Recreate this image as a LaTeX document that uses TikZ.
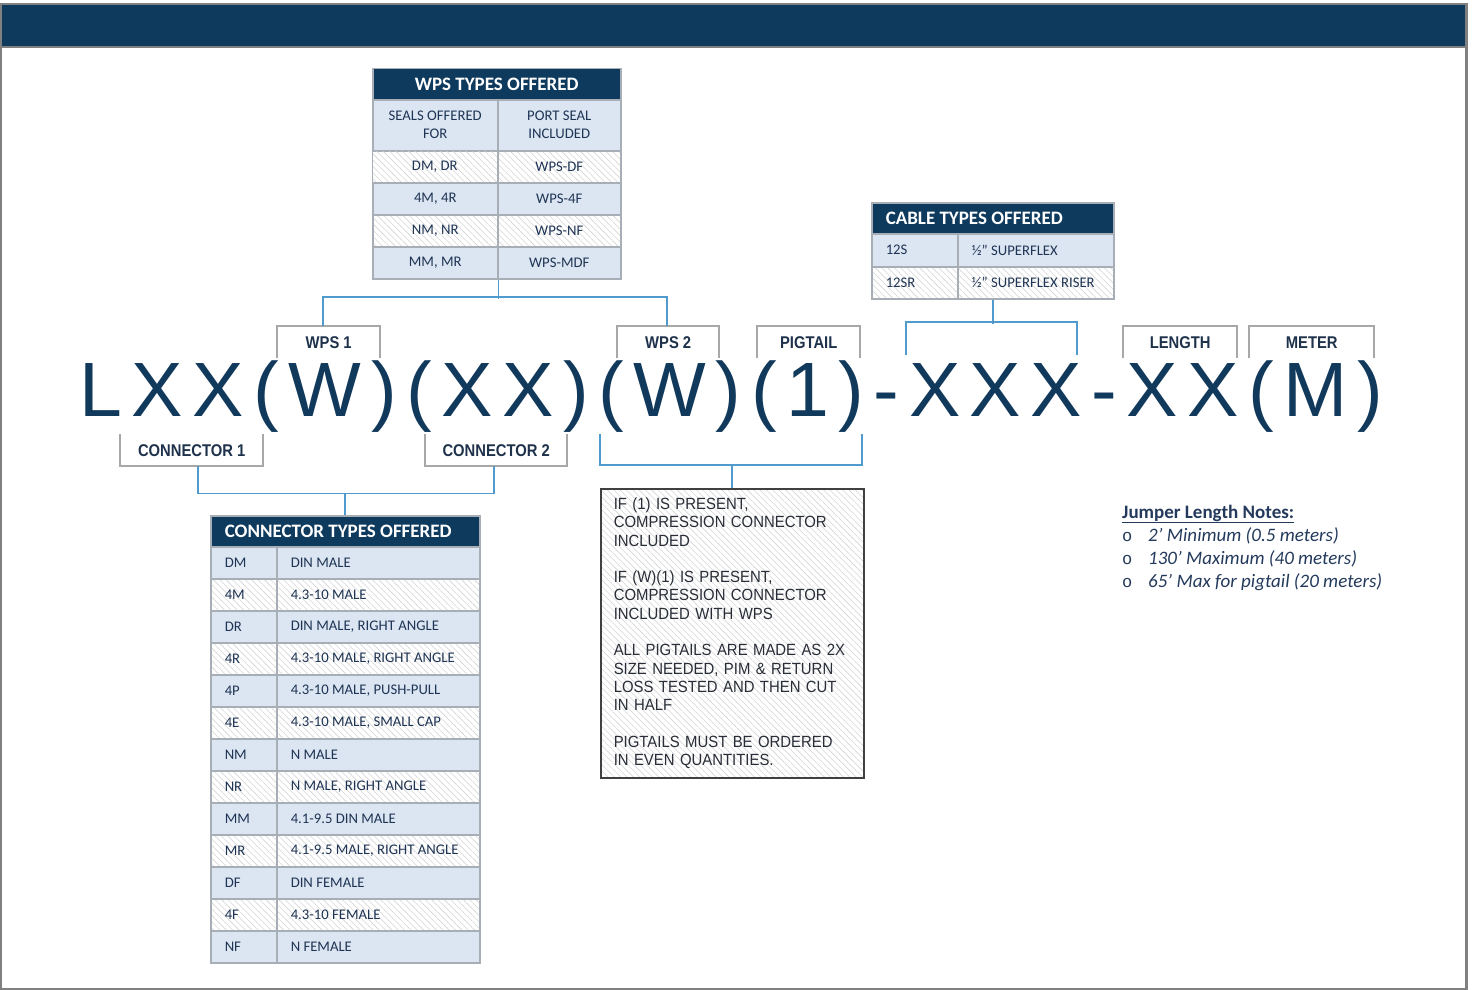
\documentclass[tikz,border=0pt]{standalone}
\usepackage{fontspec}
\setmainfont{Liberation Sans}
\newfontfamily\tabfont{Carlito}
\newfontfamily\lblfont[FakeStretch=0.87]{Liberation Sans}
\newfontfamily\pnfont[LetterSpace=12.4]{Liberation Sans}
\newfontfamily\nfont[FakeStretch=0.92]{Liberation Sans}
\newfontfamily\bulfont{Liberation Mono}
\usetikzlibrary{patterns.meta}
\definecolor{navy}{RGB}{14,58,94}
\definecolor{framegray}{RGB}{128,128,128}
\definecolor{tblgray}{RGB}{168,174,182}
\definecolor{lightblue}{RGB}{220,230,242}
\definecolor{hatchc}{RGB}{214,214,214}
\definecolor{linkblue}{RGB}{80,155,205}
\definecolor{brkgray}{RGB}{168,168,168}
\definecolor{celltext}{RGB}{30,52,84}
\definecolor{lbltext}{RGB}{30,50,75}
\definecolor{bigtext}{RGB}{17,57,92}
\definecolor{notetext}{RGB}{40,45,55}
\definecolor{notegray}{RGB}{64,64,64}
\definecolor{jumper}{RGB}{36,58,92}
\begin{document}
\begin{tikzpicture}[x=1pt,y=-1pt,
  cellbase/.style={draw=tblgray, line width=1.5pt, inner sep=0pt, anchor=north west, text=celltext, font=\tabfont\fontsize{14.7}{18}\selectfont},
  lb/.style={cellbase, fill=lightblue},
  hb/.style={cellbase, pattern={Lines[angle=-45,distance=4.5pt,line width=0.6pt]}, pattern color=hatchc},
  hd/.style={cellbase, fill=navy, text=white, font=\tabfont\bfseries\fontsize{19}{22}\selectfont},
  rowstyle/.code={\ifodd#1\relax\pgfkeysalso{lb}\else\pgfkeysalso{hb}\fi},
  wh/.style 2 args={minimum width=#1pt, minimum height=#2pt},
  lt/.style={inner xsep=14pt, execute at begin node={\hbox to #1pt\bgroup}, execute at end node={\hfil\egroup}},
  lbl/.style={inner sep=0pt, anchor=north west, text=lbltext, font=\lblfont\bfseries\fontsize{17}{18}\selectfont},
  brk/.style={draw=brkgray, line width=2pt},
  lnk/.style={draw=linkblue, line width=1.6pt},
  pn/.style={anchor=base west, inner sep=0pt, text=bigtext, font=\pnfont\fontsize{77}{80}\selectfont},
  notebox/.style={anchor=north west, draw=notegray, line width=1.5pt, pattern={Lines[angle=-45,distance=4.5pt,line width=0.6pt]}, pattern color=hatchc, text=notetext, font=\nfont\fontsize{16.2}{18.3}\selectfont},
  jn/.style={anchor=base west, inner sep=0pt, text=jumper, font=\tabfont\fontsize{19}{23}\selectfont}
]
\useasboundingbox (0,0) rectangle (1476,990);
\fill[white] (0,0) rectangle (1476,990);
% page frame and banner
\fill[navy] (2,4) rectangle (1466,47);
\draw[framegray, line width=2.5pt] (1.2,4) rectangle (1466.5,988.8);
\draw[framegray, line width=2.5pt] (1.2,47) -- (1466.5,47);

% WPS table
\node[hd, wh={248}{31}] (wpsH) at (372,68) {WPS TYPES OFFERED};
\node[lb, wh={125}{51}, align=center] (wps0a) at (372,99) {SEALS OFFERED\\FOR};
\node[lb, wh={123}{51}, align=center] (wps0b) at (497,99) {PORT SEAL\\INCLUDED};
\node[hb, wh={125}{32}] (wps1a) at (372,150) {DM, DR};
\node[hb, wh={123}{32}] (wps1b) at (497,150) {WPS-DF};
\node[lb, wh={125}{32}] (wps2a) at (372,182) {4M, 4R};
\node[lb, wh={123}{32}] (wps2b) at (497,182) {WPS-4F};
\node[hb, wh={125}{32}] (wps3a) at (372,214) {NM, NR};
\node[hb, wh={123}{32}] (wps3b) at (497,214) {WPS-NF};
\node[lb, wh={125}{32}] (wps4a) at (372,246) {MM, MR};
\node[lb, wh={123}{32}] (wps4b) at (497,246) {WPS-MDF};

% Cable table
\node[hd, wh={242}{31}, lt=214] (cabH) at (871,202) {CABLE TYPES OFFERED};
\node[lb, wh={86}{33}, lt=58] (cab1a) at (871,233) {12S};
\node[lb, wh={156}{33}, lt=128] (cab1b) at (957,233) {½” SUPERFLEX};
\node[hb, wh={86}{32}, lt=58] (cab2a) at (871,266) {12SR};
\node[hb, wh={156}{32}, lt=128] (cab2b) at (957,266) {½” SUPERFLEX RISER};

% Connector table
\node[hd, wh={269}{31}, lt=241] (conH) at (210,515) {CONNECTOR TYPES OFFERED};
\foreach [count=\i] \c/\d in {DM/DIN MALE, 4M/4.3-10 MALE, {DR/DIN MALE, RIGHT ANGLE}, {4R/4.3-10 MALE, RIGHT ANGLE}, {4P/4.3-10 MALE, PUSH-PULL}, {4E/4.3-10 MALE, SMALL CAP}, NM/N MALE, {NR/N MALE, RIGHT ANGLE}, MM/4.1-9.5 DIN MALE, {MR/4.1-9.5 MALE, RIGHT ANGLE}, DF/DIN FEMALE, 4F/4.3-10 FEMALE, NF/N FEMALE}{
  \node[rowstyle=\i, wh={66}{32}, lt=38] (ct\i a) at (210,{546+(\i-1)*32}) {\c};
  \node[rowstyle=\i, wh={203}{32}, lt=175] (ct\i b) at (276,{546+(\i-1)*32}) {\d};
}

% Part number
\node[pn] (pn) at (79.4,416) {LXX(W)(XX)(W)(1)-XXX-XX(M)};

% Labels with brackets
\node[lbl, wh={103}{32}] (wps1) at (277,326) {WPS 1};
\node[lbl, wh={102}{32}] (wps2) at (617,326) {WPS 2};
\node[lbl, wh={103}{32}] (pig) at (757,326) {PIGTAIL};
\node[lbl, wh={114}{32}] (len) at (1123,326) {LENGTH};
\node[lbl, wh={125}{32}] (met) at (1249,326) {METER};
\node[lbl, wh={143}{32}] (con1) at (120,434) {CONNECTOR 1};
\node[lbl, wh={142}{32}] (con2) at (425,434) {CONNECTOR 2};
\foreach \n in {wps1,wps2,pig,len,met}
  \draw[brk] (\n.south west) -- (\n.north west) -- (\n.north east) -- (\n.south east);
\foreach \n in {con1,con2}
  \draw[brk] (\n.north west) -- (\n.south west) -- (\n.south east) -- (\n.north east);

% Notes box
\node[notebox, wh={263}{289}, text width=237pt, inner xsep=13pt, inner ysep=0pt, align=left] (notes) at (600,488) {IF (1) IS PRESENT,\\COMPRESSION CONNECTOR\\INCLUDED\\[18.3pt]IF (W)(1) IS PRESENT,\\COMPRESSION CONNECTOR\\INCLUDED WITH WPS\\[18.3pt]ALL PIGTAILS ARE MADE AS 2X\\SIZE NEEDED, PIM \& RETURN\\LOSS TESTED AND THEN CUT\\IN HALF\\[18.3pt]PIGTAILS MUST BE ORDERED\\IN EVEN QUANTITIES.};

% Blue connectors
\draw[lnk] ([xshift=-5.5pt]wps1.north) -- ++(0,-29) -| ([xshift=-1pt]wps2.north);
\draw[lnk] (wps4a.south east) -- ++(0,19);
\coordinate (xxxL) at (906,355);
\coordinate (xxxR) at (1077,355);
\draw[lnk] (xxxL) -- ++(0,-33) -| (xxxR);
\draw[lnk] (cabH.south |- cab2a.south) -- ++(0,24);
\draw[lnk] ([xshift=6.5pt]con1.south) -- ++(0,27) -| ([xshift=-2pt]con2.south);
\draw[lnk] (conH.north) -- ++(0,-22);
\coordinate (pgL) at (600,434);
\coordinate (pgR) at (862,434);
\draw[lnk] (pgL) -- ++(0,31) -| (pgR);
\draw[lnk] (notes.north) -- ++(0,-23);

% Jumper notes
\node[jn] (jh) at (1122,518) {\bfseries\underline{Jumper Length Notes:}};
\node[jn] (j1) at (1122,541) {\makebox[26pt][l]{\bulfont\fontsize{17}{17}\selectfont o}\itshape 2’ Minimum (0.5 meters)};
\node[jn] (j2) at (1122,564) {\makebox[26pt][l]{\bulfont\fontsize{17}{17}\selectfont o}\itshape 130’ Maximum (40 meters)};
\node[jn] (j3) at (1122,587) {\makebox[26pt][l]{\bulfont\fontsize{17}{17}\selectfont o}\itshape 65’ Max for pigtail (20 meters)};
\end{tikzpicture}
\end{document}
